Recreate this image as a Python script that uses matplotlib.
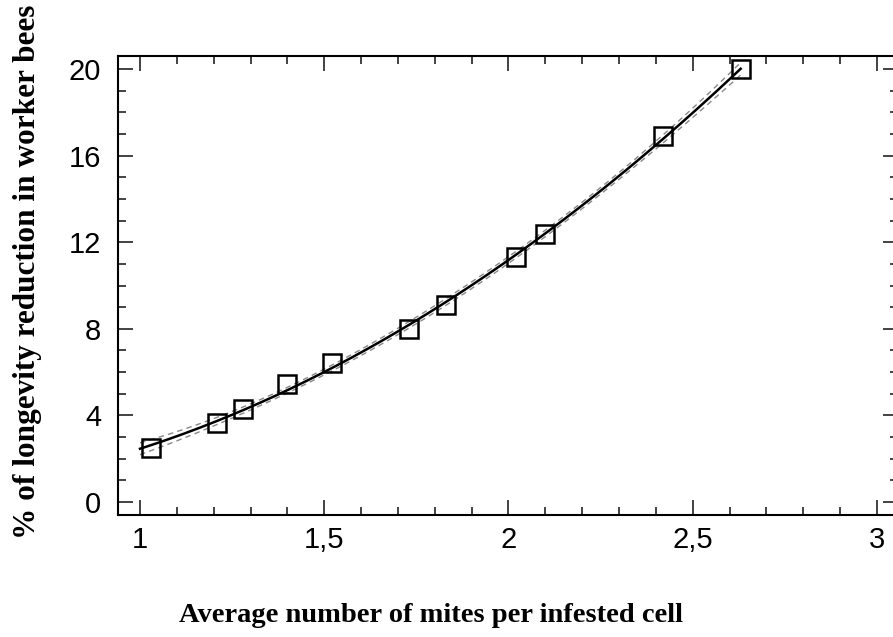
import numpy as np
import matplotlib
matplotlib.use('Agg')
import matplotlib.pyplot as plt
from matplotlib.ticker import MultipleLocator, FuncFormatter

plt.rcParams['font.family'] = ['Liberation Sans', 'DejaVu Sans']

mites = [1.03, 1.21, 1.28, 1.40, 1.52, 1.73, 1.83, 2.02, 2.10, 2.42, 2.63]
reduction = [2.5, 3.65, 4.3, 5.45, 6.4, 8.0, 9.1, 11.3, 12.4, 16.9, 20.0]

x_ticks = [1, 1.5, 2, 2.5, 3]
y_ticks = [0, 4, 8, 12, 16, 20]

x = np.array(mites)
y = np.array(reduction)

# quadratic fit with 95% band for the mean
coef, cov = np.polyfit(x, y, 2, cov=True)
xs = np.linspace(1.0, 2.63, 200)
X = np.vstack([xs**2, xs, np.ones_like(xs)]).T
fit = X @ coef
se = np.sqrt(np.einsum('ij,jk,ik->i', X, cov, X))
band = 2.0 * se

fig = plt.figure(figsize=(8.93, 6.37), dpi=100)
ax = fig.add_axes([118 / 893, 122 / 637, 780 / 893, 459 / 637])

ax.plot(xs, fit + band, color='#888888', lw=1, ls=(0, (4, 3)))
ax.plot(xs, fit - band, color='#888888', lw=1, ls=(0, (4, 3)))
ax.plot(xs, fit, color='black', lw=1.8)
ax.plot(x, y, ls='none', marker='s', ms=13.5, mfc='none', mec='black', mew=1.8)

ax.set_xlim(0.9403, 3.057)
ax.set_ylim(-0.6, 20.6)
ax.set_xticks(x_ticks)
ax.set_yticks(y_ticks)
ax.xaxis.set_minor_locator(MultipleLocator(0.1))
ax.yaxis.set_minor_locator(MultipleLocator(1))
ax.xaxis.set_major_formatter(FuncFormatter(lambda v, p: f'{v:g}'.replace('.', ',')))

ax.tick_params(which='both', direction='in', top=True, right=True, width=1.2, color='#222222')
ax.tick_params(which='major', length=11)
ax.tick_params(which='minor', length=6)
ax.tick_params(axis='x', pad=8, labelsize=21)
ax.tick_params(axis='y', pad=12, labelsize=21)
for s in ax.spines.values():
    s.set_linewidth(1.5)

fig.text(431 / 893, 1 - 616 / 637, 'Average number of mites per infested cell',
         family='Liberation Serif', weight='bold', fontsize=20.5, ha='center', va='center')
fig.text(28 / 893, 1 - 272 / 637, '% of longevity reduction in worker bees',
         family='Liberation Serif', weight='bold', fontsize=22.5, rotation=90,
         ha='center', va='center')

fig.savefig('out.png', dpi=100)
